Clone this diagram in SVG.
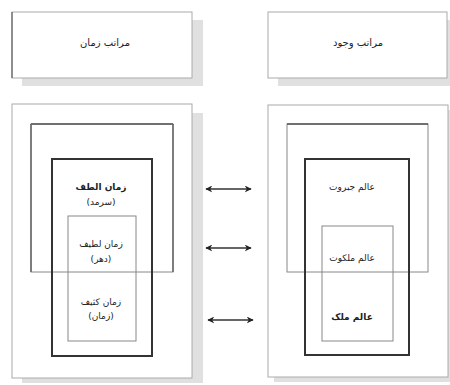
<svg xmlns="http://www.w3.org/2000/svg" width="450" height="385" viewBox="0 0 450 385">
<defs>
<marker id="ah" viewBox="0 0 10 10" refX="9" refY="5" markerWidth="7" markerHeight="7" orient="auto-start-reverse" markerUnits="userSpaceOnUse">
<path d="M0,0 L10,5 L0,10 L3,5 Z" fill="#222"/>
</marker>
</defs>
<style>
.shadow{fill:#e0e0e0;stroke:none}
.box{fill:#fff;stroke:#aaa;stroke-width:1}
.thick{fill:none;stroke:#333;stroke-width:2}
.thin{fill:none;stroke:#888;stroke-width:1}
.t{font-family:"DejaVu Sans",sans-serif;font-size:9px;fill:#222;text-anchor:middle}
.h{font-family:"DejaVu Sans",sans-serif;font-size:10px;fill:#222;text-anchor:middle}
.arr{stroke:#333;stroke-width:1.6;fill:none}
</style>
<rect width="450" height="385" fill="#fff"/>
<g id="header-time">
<rect class="shadow" x="22" y="20" width="181" height="66"/>
<rect class="box" x="12" y="12" width="180" height="66"/>
<line x1="12" y1="12" x2="12" y2="78" stroke="#777" stroke-width="1.5"/>
<text class="h" x="105" y="46">مراتب زمان</text>
</g>
<g id="header-being">
<rect class="shadow" x="278" y="20" width="172" height="66"/>
<rect class="box" x="268" y="12" width="179" height="66"/>
<text class="h" x="358" y="46">مراتب وجود</text>
</g>
<g id="panel-time">
<rect class="shadow" x="22" y="113" width="181" height="270"/>
<rect class="box" x="12" y="104" width="180" height="274"/>
<rect class="thin" x="31" y="124" width="142" height="148" stroke="#aaa"/>
<line x1="31" y1="124" x2="173" y2="124" stroke="#555" stroke-width="1.5"/>
<line x1="31" y1="124" x2="31" y2="272" stroke="#666" stroke-width="1.5"/>
<line x1="173" y1="124" x2="173" y2="272" stroke="#666" stroke-width="1.5"/>
<rect class="thick" x="52" y="159" width="100" height="197"/>
<rect class="thin" x="68" y="216" width="68" height="125"/>
</g>
<g id="node-sarmad">
<text class="t" x="101" y="190" font-weight="bold">زمان الطف</text>
<text class="t" x="101" y="205">(سرمد)</text>
</g>
<g id="node-dahr">
<text class="t" x="101" y="247">زمان لطیف</text>
<text class="t" x="101" y="262">(دهر)</text>
</g>
<g id="node-zaman">
<text class="t" x="101" y="305">زمان کثیف</text>
<text class="t" x="101" y="319">(زمان)</text>
</g>
<g id="panel-being">
<rect class="shadow" x="274" y="110" width="176" height="272"/>
<rect class="box" x="268" y="105" width="180" height="272"/>
<rect class="thin" x="287" y="124" width="141" height="148" stroke="#aaa"/>
<line x1="287" y1="124" x2="428" y2="124" stroke="#555" stroke-width="1.5"/>
<rect class="thick" x="305" y="159" width="104" height="196"/>
<rect class="thin" x="322" y="226" width="71" height="115" stroke="#777"/>
</g>
<g id="node-jabarut">
<text class="t" x="352" y="190">عالم جبروت</text>
</g>
<g id="node-malakut">
<text class="t" x="352" y="261">عالم ملکوت</text>
</g>
<g id="node-mulk">
<text class="t" x="352" y="320" font-weight="bold">عالم ملک</text>
</g>
<g id="connectors">
<line class="arr" x1="206" y1="189" x2="251" y2="189" marker-start="url(#ah)" marker-end="url(#ah)"/>
<line class="arr" x1="206" y1="248" x2="251" y2="248" marker-start="url(#ah)" marker-end="url(#ah)"/>
<line class="arr" x1="208" y1="320" x2="253" y2="320" marker-start="url(#ah)" marker-end="url(#ah)"/>
</g>
</svg>
